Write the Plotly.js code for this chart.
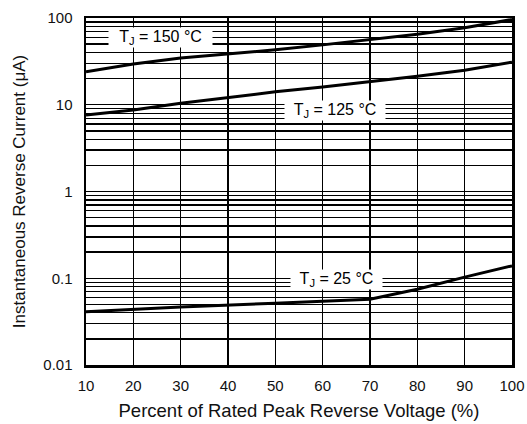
<!DOCTYPE html>
<html><head><meta charset="utf-8">
<script src="https://cdn.plot.ly/plotly-3.0.1.min.js"></script>
<style>html,body{margin:0;padding:0;background:#fff}#c{width:527px;height:424px}</style>
</head><body><div id="c"></div>
<script>
const voltagePct = [10, 20, 30, 40, 50, 60, 70, 80, 90, 100];
const i150 = [24, 29.5, 34.5, 38.5, 43, 49, 56, 65, 77, 96];
const i125 = [7.6, 8.7, 10.4, 12.2, 14.1, 16, 18.4, 21.3, 25, 31];
const v25 = [10, 30, 50, 70, 80, 90, 100];
const i25 = [0.041, 0.0467, 0.0515, 0.0573, 0.0747, 0.103, 0.139];
const curveLabels = ["T<sub>J</sub> = 150 °C", "T<sub>J</sub> = 125 °C", "T<sub>J</sub> = 25 °C"];
const labelX = [25.8, 62.6, 63];
const labelY = [59, 8.7, 0.098];
const xTicks = [10, 20, 30, 40, 50, 60, 70, 80, 90, 100];
const yTicks = [0.01, 0.1, 1, 10, 100];
const yTickText = ["0.01", "0.1", "1", "10", "100"];

const fam = "Liberation Sans, Arial, Helvetica, sans-serif";
const lineStyle = {color: "#000", width: 3};
const traces = [
  {x: voltagePct, y: i150, mode: "lines", line: lineStyle, hoverinfo: "skip"},
  {x: voltagePct, y: i125, mode: "lines", line: lineStyle, hoverinfo: "skip"},
  {x: v25, y: i25, mode: "lines", line: lineStyle, hoverinfo: "skip"}
];
const widths = [103, 100, 91];
const annotations = curveLabels.map((t, k) => ({
  x: labelX[k], y: Math.log10(labelY[k]), xref: "x", yref: "y", text: t, showarrow: false,
  bgcolor: "#fff", width: widths[k], height: 19, borderpad: 0,
  font: {family: fam, size: 16, color: "#000"}
}));
const tickFont = {family: fam, size: 15, color: "#111"};
const layout = {
  width: 527, height: 424,
  margin: {l: 86, r: 15, t: 18, b: 59},
  paper_bgcolor: "#fff", plot_bgcolor: "#fff",
  showlegend: false, font: tickFont,
  xaxis: {
    range: [10, 100], tickvals: xTicks, ticktext: xTicks.map(String),
    showgrid: true, gridcolor: "#000", gridwidth: 1.3, zeroline: false,
    showline: true, linecolor: "#000", linewidth: 2.5, mirror: true,
    ticks: "", ticklabelstandoff: 5, tickfont: tickFont,
    title: {text: "Percent of Rated Peak Reverse Voltage (%)", font: {family: fam, size: 18.5, color: "#111"}, standoff: 12}
  },
  yaxis: {
    type: "log", range: [-2, 2], tickvals: yTicks, ticktext: yTickText,
    showgrid: true, gridcolor: "#000", gridwidth: 1.3, zeroline: false,
    showline: true, linecolor: "#000", linewidth: 2.5, mirror: true,
    ticks: "", ticklabelstandoff: 8, tickfont: tickFont,
    minor: {dtick: "D1", showgrid: true, gridcolor: "#000", gridwidth: 1.3, ticks: ""},
    title: {text: "Instantaneous Reverse Current (μA)", font: {family: fam, size: 17, color: "#111"}, standoff: 14}
  },
  annotations: annotations
};
Plotly.newPlot("c", traces, layout, {staticPlot: true, displayModeBar: false});
</script></body></html>
